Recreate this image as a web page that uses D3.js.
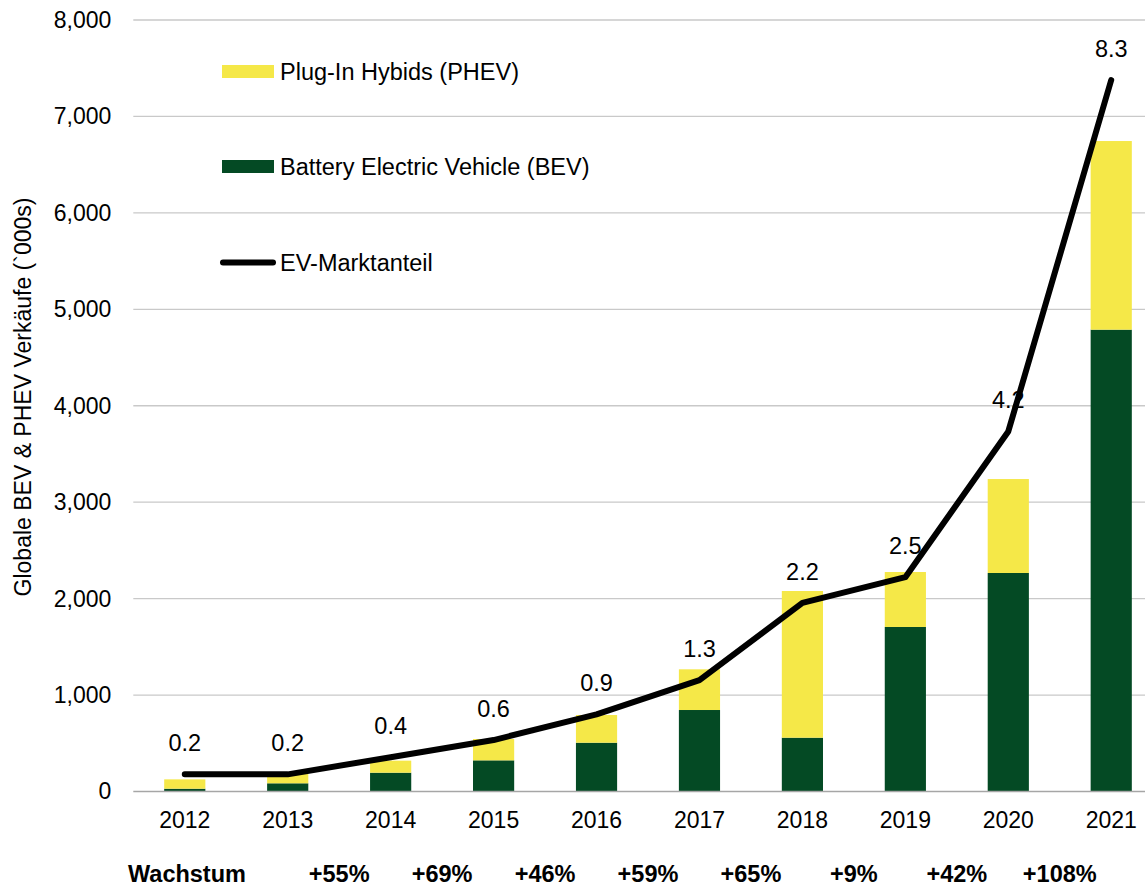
<!DOCTYPE html>
<html>
<head>
<meta charset="utf-8">
<script src="https://cdn.jsdelivr.net/npm/d3@7"></script>
<style>
  body { margin: 0; background: #fff; }
  svg { display: block; font-family: Arial, "Liberation Sans", sans-serif; }
</style>
</head>
<body>
<div id="chart"></div>
<script>
// data
var years = ["2012","2013","2014","2015","2016","2017","2018","2019","2020","2021"];
var bev   = [29, 85, 195, 323, 506, 845, 558, 1706, 2266, 4789];
var phev  = [97, 112, 125, 221, 287, 422, 1521, 570, 974, 1956];
var share = [0.2, 0.2, 0.4, 0.6, 0.9, 1.3, 2.2, 2.5, 4.2, 8.3];
var growthYears  = ["2014","2015","2016","2017","2018","2019","2020","2021"];
var growthLabels = ["+55%","+69%","+46%","+59%","+65%","+9%","+42%","+108%"];
var yTicks = [0, 1000, 2000, 3000, 4000, 5000, 6000, 7000, 8000];

var W = 1145, H = 887;
var plotLeft = 133.3, plotRight = 1162.7, plotTop = 20, plotBottom = 791.5;
var yellow = "#F5E848", green = "#044A24";

var svg = d3.select("#chart")
  .append("svg")
    .attr("width", W)
    .attr("height", H);

var x = d3.scaleBand()
  .domain(years)
  .range([plotLeft, plotRight])
  .paddingInner(0.6)
  .paddingOuter(0.3);

var y = d3.scaleLinear()
  .domain([0, 8000])
  .range([plotBottom, plotTop]);

// hidden secondary axis for the market share line
var y2 = d3.scaleLinear()
  .domain([0, 9])
  .range([plotBottom, plotTop]);

function cx(yr){ return x(yr) + x.bandwidth() / 2; }

// gridlines
svg.append("g")
  .selectAll("line")
  .data(yTicks.filter(function(d){ return d > 0; }))
  .enter()
  .append("line")
    .attr("x1", plotLeft)
    .attr("x2", W)
    .attr("y1", function(d){ return y(d); })
    .attr("y2", function(d){ return y(d); })
    .style("stroke", "#C9C9C9")
    .style("stroke-width", 1.3);

// Y axis labels
var yAxis = svg.append("g")
  .attr("transform", "translate(" + plotLeft + ",0)")
  .call(d3.axisLeft(y).tickValues(yTicks).tickSize(0).tickPadding(22).tickFormat(d3.format(",")));
yAxis.select(".domain").remove();
yAxis.selectAll("text").style("font-size", "23px").style("fill", "#000").style("font-family", "Arial, 'Liberation Sans', sans-serif");

// stacked bars
var stackData = years.map(function(yr, i){ return {year: yr, bev: bev[i], phev: phev[i]}; });
var series = d3.stack().keys(["bev", "phev"])(stackData);
var colors = {bev: green, phev: yellow};

svg.append("g")
  .selectAll("g")
  .data(series)
  .enter()
  .append("g")
    .style("fill", function(d){ return colors[d.key]; })
  .selectAll("rect")
  .data(function(d){ return d; })
  .enter()
  .append("rect")
    .attr("x", function(d){ return x(d.data.year); })
    .attr("width", x.bandwidth())
    .attr("y", function(d){ return y(d[1]); })
    .attr("height", function(d){ return y(d[0]) - y(d[1]); });

// baseline
svg.append("line")
  .attr("x1", plotLeft).attr("x2", W)
  .attr("y1", y(0)).attr("y2", y(0))
  .style("stroke", "#A6A6A6")
  .style("stroke-width", 1.5);

// X axis labels
var xAxis = svg.append("g")
  .attr("transform", "translate(0," + plotBottom + ")")
  .call(d3.axisBottom(x).tickSize(0).tickPadding(20));
xAxis.select(".domain").remove();
xAxis.selectAll("text").style("font-size", "23px").style("fill", "#000").style("font-family", "Arial, 'Liberation Sans', sans-serif");

// market share line
var line = d3.line()
  .x(function(d, i){ return cx(years[i]); })
  .y(function(d){ return y2(d); });

svg.append("path")
  .datum(share)
  .attr("d", line)
  .style("fill", "none")
  .style("stroke", "#000")
  .style("stroke-width", 6)
  .style("stroke-linejoin", "round")
  .style("stroke-linecap", "round");

// line labels
svg.append("g")
  .selectAll("text")
  .data(share)
  .enter()
  .append("text")
    .attr("x", function(d, i){ return cx(years[i]); })
    .attr("y", function(d){ return y2(d) - 23; })
    .attr("text-anchor", "middle")
    .style("font-size", "23.5px")
    .text(function(d){ return d3.format(".1f")(d); });

// legend
svg.append("rect").attr("x", 222).attr("y", 65).attr("width", 52).attr("height", 13).style("fill", yellow);
svg.append("rect").attr("x", 222).attr("y", 160).attr("width", 52).attr("height", 13).style("fill", green);
svg.append("line").attr("x1", 223).attr("x2", 273).attr("y1", 262.5).attr("y2", 262.5)
  .style("stroke", "#000").style("stroke-width", 6).style("stroke-linecap", "round");
svg.append("text").attr("x", 280).attr("y", 71.5).attr("dy", "0.35em").text("Plug-In Hybids (PHEV)").style("font-size", "23.5px");
svg.append("text").attr("x", 280).attr("y", 166.5).attr("dy", "0.35em").text("Battery Electric Vehicle (BEV)").style("font-size", "23.5px");
svg.append("text").attr("x", 280).attr("y", 263).attr("dy", "0.35em").text("EV-Marktanteil").style("font-size", "23.5px");

// axis title
svg.append("text")
  .attr("text-anchor", "middle")
  .attr("transform", "translate(31,397) rotate(-90)")
  .style("font-size", "23px")
  .text("Globale BEV & PHEV Verkäufe (`000s)");

// growth row
svg.append("text")
  .attr("x", 128)
  .attr("y", 882)
  .style("font-size", "23.5px")
  .style("font-weight", "bold")
  .text("Wachstum");

svg.append("g")
  .selectAll("text")
  .data(growthLabels)
  .enter()
  .append("text")
    .attr("x", function(d, i){ return cx(growthYears[i]) - x.step() / 2; })
    .attr("y", 882)
    .attr("text-anchor", "middle")
    .style("font-size", "23.5px")
    .style("font-weight", "bold")
    .text(function(d){ return d; });
</script>
</body>
</html>
